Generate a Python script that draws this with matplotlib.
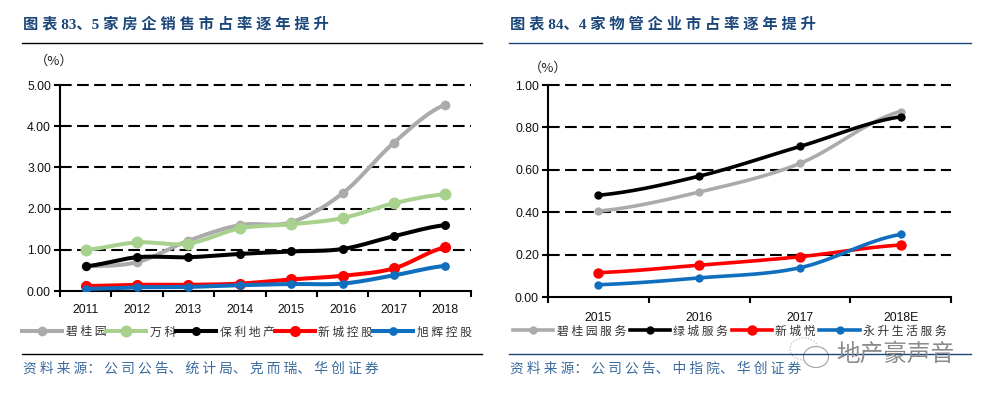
import numpy as np
import matplotlib
matplotlib.use("Agg")
import matplotlib.pyplot as plt
from matplotlib.lines import Line2D
from matplotlib.patches import Ellipse

W, H = 986, 396
CJK = ['Noto Sans CJK SC', 'DejaVu Sans']
TITLE_FONT = ['Liberation Serif', 'Noto Sans CJK SC']
NUM_FONT = ['Liberation Sans', 'Noto Sans CJK SC']
NAVY = '#1B4679'

years_left = ['2011', '2012', '2013', '2014', '2015', '2016', '2017', '2018']
bgy = [0.60, 0.70, 1.22, 1.60, 1.67, 2.37, 3.60, 4.52]
vanke = [1.00, 1.18, 1.15, 1.52, 1.62, 1.77, 2.13, 2.35]
poly = [0.60, 0.82, 0.82, 0.90, 0.96, 1.02, 1.33, 1.60]
seazen = [0.12, 0.15, 0.15, 0.18, 0.28, 0.37, 0.55, 1.06]
cifi = [0.05, 0.09, 0.10, 0.14, 0.17, 0.18, 0.38, 0.61]
names_left = ['碧 桂 园', '万 科', '保 利 地 产', '新 城 控 股', '旭 辉 控 股']
yticks_left = [0, 1, 2, 3, 4, 5]

years_right = ['2015', '2016', '2017', '2018E']
bgy_s = [0.405, 0.495, 0.63, 0.875]
green_s = [0.48, 0.57, 0.71, 0.85]
seazen_s = [0.115, 0.15, 0.19, 0.245]
ever_s = [0.058, 0.09, 0.138, 0.295]
names_right = ['碧 桂 园 服 务', '绿 城 服 务', '新 城 悦', '永 升 生 活 服 务']
yticks_right = [0, 0.2, 0.4, 0.6, 0.8, 1.0]

title_left = '图 表 83、5 家 房 企 销 售 市 占 率 逐 年 提 升'
title_right = '图 表 84、4 家 物 管 企 业 市 占 率 逐 年 提 升'
source_left = '资 料 来 源： 公 司 公 告、 统 计 局、 克 而 瑞、 华 创 证 券'
source_right = '资 料 来 源： 公 司 公 告、 中 指 院、 华 创 证 券'
watermark = '地产豪声音'

fig = plt.figure(figsize=(W / 100, H / 100), dpi=100, facecolor='white')


def fx(p):
    return p / W


def fy(p):
    return 1 - p / H


def smooth(x, y, k=24):
    """Excel-style smoothed display path through the data points."""
    x, y = np.asarray(x, float), np.asarray(y, float)
    xs, ys = [], []
    for i in range(len(x) - 1):
        p0 = y[max(i - 1, 0)]
        p1, p2 = y[i], y[i + 1]
        p3 = y[min(i + 2, len(y) - 1)]
        t = np.linspace(0, 1, k, endpoint=False)
        xs.append(x[i] + t * (x[i + 1] - x[i]))
        ys.append(0.5 * (2 * p1 + (p2 - p0) * t + (2 * p0 - 5 * p1 + 4 * p2 - p3) * t ** 2
                         + (3 * p1 - p0 - 3 * p2 + p3) * t ** 3))
    return np.r_[np.concatenate(xs), x[-1]], np.r_[np.concatenate(ys), y[-1]]


def panel(box, cats, series, names, styles, yticks, ymax, lw, tick_y, leg):
    l, r, t, b = box
    ax = fig.add_axes([fx(l), fy(b), fx(r - l), (b - t) / H])
    n = len(cats)
    x = np.arange(n) + 0.5
    ax.set_xlim(0, n)
    ax.set_ylim(0, ymax)
    for v in yticks[1:]:
        ax.plot([0, n], [v, v], color='black', lw=1.5, dashes=(5.6, 2.6), zorder=1, clip_on=False)
    handles = []
    for vals, name, (c, ms) in zip(series, names, styles):
        sx, sy = smooth(x, vals)
        ax.plot(sx, sy, color=c, lw=lw, zorder=3, solid_capstyle='round')
        ax.plot(x, vals, ls='none', marker='o', color=c, ms=ms, mew=0, zorder=3)
        handles.append(Line2D([], [], color=c, lw=lw, marker='o', ms=ms, mew=0, label=name))
    for s in ('top', 'right'):
        ax.spines[s].set_visible(False)
    for s in ('left', 'bottom'):
        ax.spines[s].set_linewidth(1.5)
    ax.set_yticks(yticks)
    ax.set_yticklabels([f'{v:.2f}' for v in yticks], family=NUM_FONT, fontsize=8.8, color='#111111')
    ax.set_xticks(np.arange(n + 1))
    ax.set_xticklabels([])
    ax.set_xticks(x, minor=True)
    ax.set_xticklabels(cats, minor=True, family=NUM_FONT, fontsize=8.8, color='#111111')
    ax.tick_params(axis='both', which='major', length=4, width=1.5, direction='out', pad=2.5)
    ax.tick_params(axis='x', which='minor', length=0, pad=tick_y)
    fig.legend(handles=handles, loc='center', bbox_to_anchor=(fx(leg[0]), fy(leg[1])), ncol=len(names),
               frameon=False, prop={'family': CJK, 'size': 8.5}, labelcolor='#333333',
               handlelength=3.4, handletextpad=0.3, columnspacing=leg[2], borderpad=0, borderaxespad=0)
    return ax


panel((60, 471, 85, 291), years_left, [bgy, vanke, poly, seazen, cifi], names_left,
      [('#ABABAB', 7), ('#A9D18E', 8.6), ('#000000', 6.5), ('#FF0000', 8), ('#0F6FBE', 6.3)],
      yticks_left, 5, 2.9, 9.5, (247, 332, 0.0))
panel((548, 951, 85, 297), years_right, [bgy_s, green_s, seazen_s, ever_s], names_right,
      [('#ABABAB', 6), ('#000000', 6), ('#FF0000', 7.5), ('#0F6FBE', 6)],
      yticks_right, 1, 2.6, 10.5, (730, 331, 0.3))

fig.text(fx(35), fy(61), '（%）', family=CJK, fontsize=9.5, color='#222222', va='center')
fig.text(fx(529), fy(68), '（%）', family=CJK, fontsize=9.5, color='#222222', va='center')

for xp, t, s in ((23, title_left, source_left), (510, title_right, source_right)):
    fig.text(fx(xp), fy(24), t, family=TITLE_FONT, fontsize=11, fontweight='bold', color=NAVY, va='center')
    fig.text(fx(xp), fy(369), s, family=CJK, fontsize=9.9, color='#3A6A9E', va='center')

fig.add_artist(Line2D([fx(22), fx(482)], [fy(43), fy(43)], color='black', lw=1.0))
fig.add_artist(Line2D([fx(22), fx(482)], [fy(354), fy(354)], color='black', lw=1.0))
fig.add_artist(Line2D([fx(509), fx(971)], [fy(43), fy(43)], color=NAVY, lw=1.0))
fig.add_artist(Line2D([fx(509), fx(971)], [fy(354), fy(354)], color=NAVY, lw=1.0))

# watermark: chat-bubble icon and name
fig.add_artist(Ellipse((fx(804), fy(349)), fx(28), 22 / H, fc='white', ec='#BBBBBB', lw=0.9, ls=(0, (1, 1.5))))
fig.add_artist(Ellipse((fx(816), fy(357)), fx(25), 21 / H, fc='white', ec='#AAAAAA', lw=0.9))
fig.text(fx(836), fy(354), watermark, family=CJK, fontsize=17, color='#8A8A8A', va='center')

fig.savefig('out.png', dpi=100, facecolor='white')
